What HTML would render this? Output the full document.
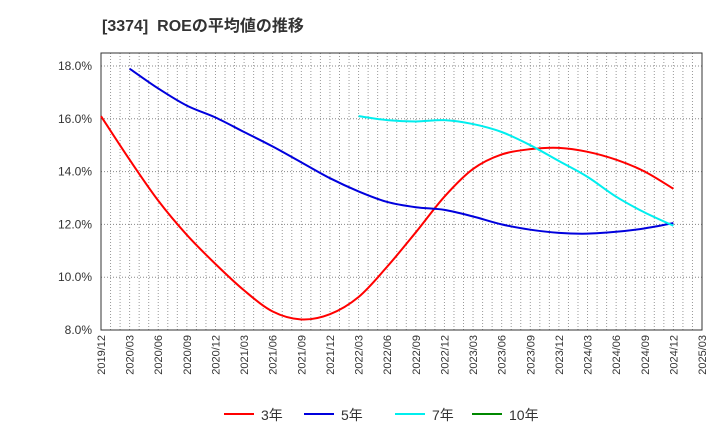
<!DOCTYPE html>
<html><head><meta charset="utf-8"><style>
body{margin:0;background:#fff;font-family:"Liberation Sans","Noto Sans CJK JP",sans-serif;}
</style></head><body>
<svg id="c" width="720" height="440" xmlns="http://www.w3.org/2000/svg" font-family="Liberation Sans, Noto Sans CJK JP, sans-serif">
<text x="102" y="31" font-size="16" font-weight="bold" fill="#333">[3374]&#160; ROEの平均値の推移</text>
<g id="grid"></g><g id="axes"></g><g id="series"></g><g id="legend"></g>
</svg>
<script>
const xLabels=["2019/12","2020/03","2020/06","2020/09","2020/12","2021/03","2021/06","2021/09","2021/12","2022/03","2022/06","2022/09","2022/12","2023/03","2023/06","2023/09","2023/12","2024/03","2024/06","2024/09","2024/12","2025/03"];
const yTicks=[8,10,12,14,16,18];
const s3=[16.1,14.45,12.9,11.6,10.5,9.5,8.7,8.4,8.6,9.25,10.4,11.7,13.05,14.1,14.65,14.85,14.9,14.75,14.45,14.0,13.35];
const s5=[null,17.9,17.15,16.5,16.05,15.5,14.95,14.35,13.75,13.25,12.85,12.65,12.55,12.3,12.0,11.8,11.68,11.65,11.72,11.85,12.05];
const s7=[null,null,null,null,null,null,null,null,null,16.1,15.95,15.9,15.95,15.8,15.5,15.0,14.4,13.8,13.05,12.45,11.95];
const s10=[];
const seriesNames=["3年","5年","7年","10年"];
const colors=["#ff0000","#0000dd","#00eeee","#008800"];
const L=101,R=702,T=53,B=330;
const X=i=>L+i*(R-L)/21;
const Y=v=>330-(v-8)*(52.8/2);
const NS="http://www.w3.org/2000/svg";
function mk(p,t,a){const e=document.createElementNS(NS,t);for(const k in a)e.setAttribute(k,a[k]);p.appendChild(e);return e;}
const g=document.getElementById('grid'),ax=document.getElementById('axes'),se=document.getElementById('series'),lg=document.getElementById('legend');
for(let m=1;m<63;m++){const x=L+m*(R-L)/63;const l=mk(g,'line',{x1:x,x2:x,y1:T,y2:B,stroke:'#999','stroke-dasharray':'1,2','stroke-width':1});

}
yTicks.forEach(v=>{const y=Y(v);const l=mk(g,'line',{x1:L,x2:R,y1:y,y2:y,stroke:'#888','stroke-dasharray':'1,2'});


const t=mk(ax,'text',{x:92,y:y+4,'font-size':12,'text-anchor':'end',fill:'#333'});t.textContent=v.toFixed(1)+'%';

});
const fr=mk(ax,'rect',{x:L,y:T,width:R-L,height:B-T,fill:'none',stroke:'#333'});


xLabels.forEach((s,i)=>{const x=X(i);const t=mk(ax,'text',{transform:`translate(${x+4},335) rotate(-90)`,'font-size':11,'text-anchor':'end',fill:'#333'});t.textContent=s;

});
function path(arr){const p=[];arr.forEach((v,i)=>{if(v!=null)p.push([X(i),Y(v)]);});if(p.length<2)return '';
let d=`M${p[0][0]},${p[0][1]}`;for(let i=0;i<p.length-1;i++){const p0=p[i-1]||p[i],p1=p[i],p2=p[i+1],p3=p[i+2]||p2;
d+=` C${p1[0]+(p2[0]-p0[0])/6},${p1[1]+(p2[1]-p0[1])/6} ${p2[0]-(p3[0]-p1[0])/6},${p2[1]-(p3[1]-p1[1])/6} ${p2[0]},${p2[1]}`;}return d;}
[s3,s5,s7,s10].forEach((a,k)=>{const d=path(a);if(!d)return;const e=mk(se,'path',{d:d,fill:'none',stroke:colors[k],'stroke-width':2});

});
const lx=[224,304,395,472];
seriesNames.forEach((n,k)=>{const l=mk(lg,'line',{x1:lx[k],x2:lx[k]+30,y1:414,y2:414,stroke:colors[k],'stroke-width':2});


const t=mk(lg,'text',{x:lx[k]+37,y:420,'font-size':14,fill:'#333'});t.textContent=n;

});
</script>
</body></html>
